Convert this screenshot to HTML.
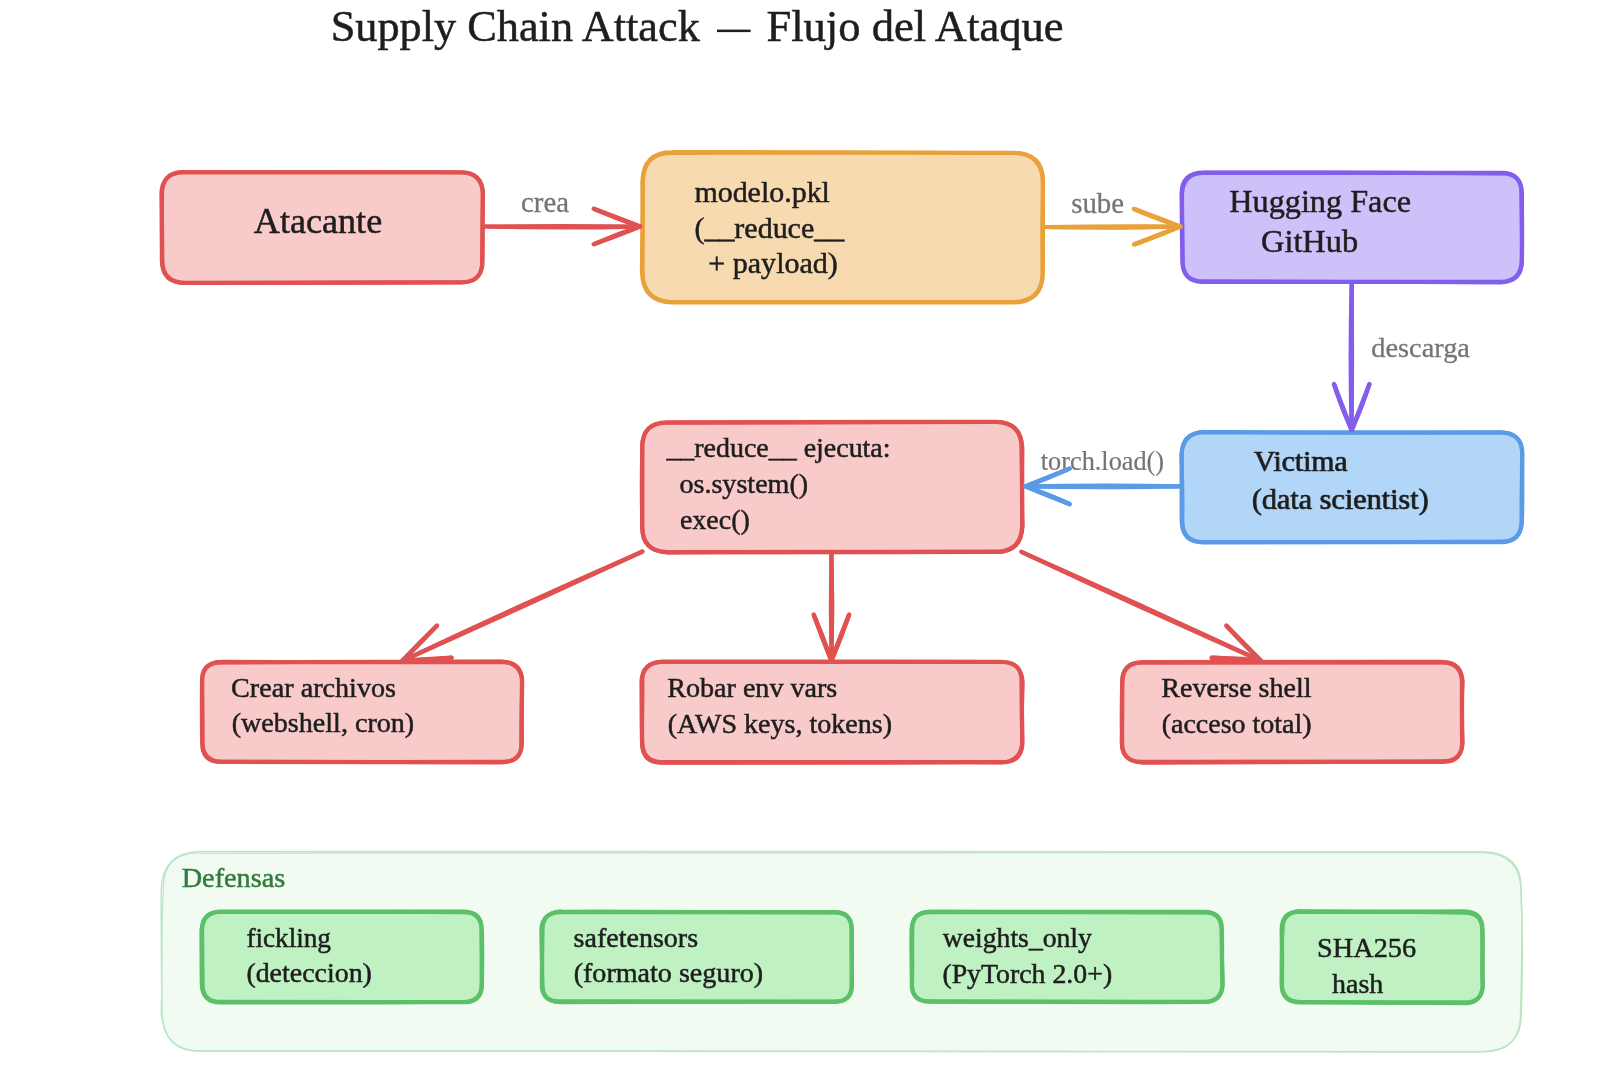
<!DOCTYPE html>
<html><head><meta charset="utf-8"><style>
html,body{margin:0;padding:0;background:#ffffff;width:1606px;height:1078px;overflow:hidden}
svg{display:block;will-change:transform}
text{font-family:"Liberation Serif",serif;white-space:pre}
</style></head><body>
<svg width="1606" height="1078" viewBox="0 0 1606 1078">
<path d="M202.95,853.06 C625.16,852.97 1046.49,853.09 1480.68,853.01 Q1521.13,853.29 1520.59,892.80 C1520.59,932.25 1521.19,970.42 1521.48,1011.46 Q1521.15,1051.12 1480.66,1050.52 C1059.29,1050.56 637.21,1050.74 202.53,1050.96 Q162.94,1051.34 163.02,1011.14 C163.00,972.22 162.96,932.90 163.50,893.50 Q163.34,853.21 202.95,853.06" fill="#f1fbf2"/>
<path d="M201.63,851.46 C623.98,851.14 1047.33,851.80 1482.69,851.77 Q1522.92,852.69 1521.00,891.42 C1522.82,931.54 1522.96,970.99 1521.15,1012.26 Q1522.56,1051.54 1481.17,1051.67 C1060.53,1052.52 636.44,1051.49 201.20,1051.12 Q162.59,1051.36 162.12,1011.89 C161.38,972.86 161.26,933.09 161.23,891.84 Q161.43,851.54 201.63,851.46" fill="none" stroke="#bde6c6" stroke-width="1.6" stroke-linecap="round"/>
<path d="M203.70,853.09 C623.69,853.39 1045.76,851.62 1483.28,852.51 Q1520.56,853.76 1520.97,891.13 C1522.98,930.98 1521.27,969.66 1520.52,1012.30 Q1521.07,1052.36 1481.54,1051.83 C1061.25,1051.94 637.47,1053.32 200.86,1050.75 Q163.47,1053.14 161.10,1010.88 C162.86,973.99 160.91,934.42 163.38,892.37 Q161.72,850.57 203.70,853.09" fill="none" stroke="#bde6c6" stroke-width="1.3" stroke-linecap="round"/>
<path d="M184.64,173.46 C275.36,173.20 365.89,173.32 459.50,172.79 Q481.18,173.22 481.07,194.83 C481.56,216.67 481.61,237.32 481.92,259.10 Q481.02,281.27 459.35,281.06 C368.56,281.37 278.43,281.13 184.96,281.89 Q163.48,281.66 163.19,259.48 C162.64,237.72 162.52,217.37 163.20,195.56 Q162.52,173.14 184.64,173.46" fill="#f8caca"/>
<path d="M184.08,172.23 C275.10,172.50 366.03,172.05 460.64,172.40 Q482.74,172.20 482.79,194.52 C482.35,216.16 482.90,238.23 482.42,260.69 Q482.86,282.57 460.52,282.38 C369.30,282.61 277.62,282.64 184.59,282.88 Q162.23,282.39 162.24,260.48 C161.94,238.86 161.58,216.89 161.53,194.20 Q161.98,171.73 184.08,172.23" fill="none" stroke="#e05252" stroke-width="4.4" stroke-linecap="round"/>
<path d="M184.46,172.00 C275.49,172.76 366.02,171.12 460.04,172.32 Q481.96,171.41 483.23,194.39 C482.40,216.68 482.19,238.16 481.96,260.28 Q483.05,283.25 461.08,282.29 C369.37,282.17 277.39,282.49 184.71,283.13 Q162.38,283.31 161.60,259.80 C161.91,238.12 161.49,216.49 162.23,194.09 Q161.67,172.61 184.46,172.00" fill="none" stroke="#e05252" stroke-width="3.74" stroke-linecap="round"/>
<path d="M673.88,153.45 C784.58,153.03 896.98,153.04 1011.81,153.57 Q1041.31,153.79 1041.02,183.04 C1041.45,211.87 1041.83,241.02 1041.14,270.65 Q1041.63,300.95 1011.73,301.16 C900.30,301.46 788.57,300.70 673.38,300.68 Q643.01,300.97 643.71,270.78 C643.27,242.00 643.70,213.24 643.61,183.66 Q643.39,153.79 673.88,153.45" fill="#f8dab0"/>
<path d="M672.81,152.09 C785.10,152.72 896.56,152.45 1012.73,152.91 Q1042.38,152.57 1042.88,182.70 C1042.94,211.96 1042.65,241.31 1042.72,272.42 Q1042.64,302.22 1012.31,302.40 C900.81,302.48 788.10,302.29 672.22,302.41 Q642.86,301.85 642.08,272.04 C642.55,242.77 642.49,212.43 642.81,181.96 Q642.80,152.17 672.81,152.09" fill="none" stroke="#e9a23b" stroke-width="4.4" stroke-linecap="round"/>
<path d="M672.10,153.02 C784.02,151.87 896.96,152.90 1013.21,152.84 Q1043.30,152.49 1043.31,181.65 C1042.00,212.05 1042.12,242.01 1042.75,272.14 Q1043.12,302.11 1012.26,301.79 C900.96,302.72 787.54,302.63 673.24,302.04 Q642.63,301.46 642.56,272.11 C642.69,241.65 643.34,212.93 642.32,182.94 Q642.61,152.48 672.10,153.02" fill="none" stroke="#e9a23b" stroke-width="3.74" stroke-linecap="round"/>
<path d="M1205.05,173.27 C1302.01,173.61 1399.54,174.12 1498.91,173.67 Q1520.63,173.63 1521.32,195.96 C1520.98,216.36 1520.69,237.64 1521.43,258.77 Q1521.28,280.52 1498.83,280.73 C1402.21,280.82 1304.77,281.12 1204.46,281.23 Q1182.62,281.01 1182.75,258.84 C1183.03,238.10 1182.88,217.09 1183.03,195.22 Q1182.70,173.83 1205.05,173.27" fill="#cec0f8"/>
<path d="M1204.00,172.73 C1301.98,172.81 1399.76,172.43 1500.38,173.01 Q1522.40,172.52 1521.81,194.98 C1521.72,216.70 1522.39,237.48 1521.74,260.37 Q1521.76,281.60 1500.47,281.92 C1402.66,281.63 1304.50,282.19 1203.38,281.70 Q1182.18,282.41 1182.47,259.76 C1182.01,238.76 1182.00,217.04 1181.69,194.13 Q1181.61,172.24 1204.00,172.73" fill="none" stroke="#835dec" stroke-width="4.4" stroke-linecap="round"/>
<path d="M1203.95,172.73 C1301.76,172.06 1398.84,172.17 1500.75,173.58 Q1522.77,171.97 1521.21,195.37 C1521.93,216.68 1521.69,237.78 1522.03,260.01 Q1522.18,281.12 1500.50,282.62 C1401.79,281.92 1305.03,281.83 1203.31,281.40 Q1182.02,281.13 1182.71,260.68 C1182.37,239.15 1182.23,216.69 1182.18,194.57 Q1182.87,173.25 1203.95,172.73" fill="none" stroke="#835dec" stroke-width="3.74" stroke-linecap="round"/>
<path d="M1204.76,433.91 C1302.26,433.78 1399.35,433.41 1499.40,433.88 Q1521.19,433.77 1521.27,455.41 C1521.22,476.19 1520.84,497.71 1520.51,519.36 Q1521.14,541.62 1498.73,541.94 C1402.15,541.34 1305.12,541.57 1205.03,541.39 Q1183.50,541.64 1183.20,519.76 C1183.48,497.90 1183.12,477.50 1182.76,455.40 Q1182.55,433.20 1204.76,433.91" fill="#b2d6f8"/>
<path d="M1203.88,432.10 C1301.43,432.91 1399.41,432.51 1500.47,432.57 Q1522.50,432.64 1522.31,454.08 C1522.10,476.54 1521.55,498.49 1521.66,520.47 Q1521.67,542.50 1500.11,542.06 C1402.77,542.42 1304.67,542.60 1203.87,542.29 Q1182.16,542.56 1181.78,520.72 C1181.80,498.23 1181.75,476.48 1181.66,454.75 Q1181.89,432.90 1203.88,432.10" fill="none" stroke="#5a9ae6" stroke-width="4.4" stroke-linecap="round"/>
<path d="M1204.45,431.69 C1302.56,433.30 1398.59,433.23 1499.87,432.46 Q1522.85,432.04 1522.04,455.29 C1522.40,476.22 1522.86,498.63 1522.19,519.81 Q1522.22,542.42 1499.47,541.69 C1402.37,541.82 1304.54,542.80 1203.92,542.07 Q1182.15,542.36 1182.50,520.56 C1182.90,499.53 1182.42,476.47 1181.30,455.21 Q1182.51,432.72 1204.45,431.69" fill="none" stroke="#5a9ae6" stroke-width="3.74" stroke-linecap="round"/>
<path d="M668.86,422.77 C776.77,423.06 884.25,423.13 995.25,422.69 Q1020.75,423.48 1021.42,449.38 C1020.54,473.64 1020.77,499.09 1021.12,524.60 Q1021.04,550.57 994.59,551.18 C887.47,551.13 779.71,550.98 668.71,550.84 Q643.24,551.34 642.57,524.62 C643.31,500.04 643.27,474.55 642.92,448.76 Q643.31,422.87 668.86,422.77" fill="#f8caca"/>
<path d="M668.15,422.49 C776.07,422.05 884.73,422.42 995.93,421.87 Q1021.60,422.38 1021.58,447.58 C1022.06,473.72 1022.19,499.28 1022.28,525.58 Q1021.71,552.16 995.58,551.80 C887.98,552.19 779.30,551.64 667.86,552.23 Q641.87,551.62 642.21,526.07 C642.42,500.70 642.41,474.46 642.30,447.80 Q641.82,421.90 668.15,422.49" fill="none" stroke="#e05252" stroke-width="4.4" stroke-linecap="round"/>
<path d="M668.78,422.71 C775.79,421.75 884.24,421.75 995.81,421.80 Q1021.45,422.11 1022.53,448.07 C1022.61,473.85 1021.42,499.95 1022.69,525.61 Q1021.14,552.03 996.08,552.12 C888.60,552.27 780.07,551.22 668.08,552.52 Q641.25,551.25 642.43,526.72 C641.25,500.50 641.36,474.96 642.27,447.54 Q641.50,422.48 668.78,422.71" fill="none" stroke="#e05252" stroke-width="3.74" stroke-linecap="round"/>
<path d="M223.02,663.26 C314.63,662.84 406.95,663.17 500.99,663.04 Q521.22,663.21 521.41,682.91 C521.33,702.31 521.35,721.59 521.33,741.39 Q521.46,761.14 501.02,761.21 C409.56,760.92 317.44,760.65 223.24,761.49 Q202.88,760.67 202.70,740.92 C202.79,722.33 202.56,702.53 202.61,683.15 Q203.28,662.68 223.02,663.26" fill="#f8caca"/>
<path d="M221.56,661.96 C314.48,662.41 406.34,661.61 501.68,661.72 Q521.74,662.22 522.09,681.72 C521.68,701.58 521.67,721.86 521.81,742.05 Q522.32,761.98 501.76,762.39 C410.01,761.84 317.25,762.46 221.98,761.72 Q201.55,762.45 202.30,741.88 C202.03,722.22 201.77,702.89 202.16,681.74 Q201.51,661.97 221.56,661.96" fill="none" stroke="#e05252" stroke-width="4.4" stroke-linecap="round"/>
<path d="M221.77,662.53 C314.78,662.19 406.18,661.38 501.68,661.57 Q522.66,662.03 522.25,682.89 C521.58,701.86 521.37,722.09 521.10,742.58 Q522.62,762.58 501.25,761.59 C409.99,761.27 317.16,761.94 222.82,762.16 Q202.64,761.65 202.52,741.85 C202.75,721.46 202.59,701.88 202.08,682.05 Q201.38,662.60 221.77,662.53" fill="none" stroke="#e05252" stroke-width="3.74" stroke-linecap="round"/>
<path d="M662.81,662.81 C774.12,662.81 886.05,663.22 1000.86,663.19 Q1020.61,662.89 1020.96,683.47 C1021.33,702.29 1020.51,721.16 1021.21,740.74 Q1021.06,760.96 1000.51,761.49 C889.76,760.71 778.04,760.79 662.88,761.04 Q642.80,760.84 642.89,741.17 C642.76,721.56 643.23,702.55 643.45,683.06 Q643.22,662.83 662.81,662.81" fill="#f8caca"/>
<path d="M662.33,661.59 C773.84,661.59 886.58,662.21 1001.68,661.90 Q1022.34,662.09 1021.59,681.73 C1021.66,701.42 1021.91,721.17 1022.42,741.93 Q1022.01,762.15 1002.27,762.32 C889.69,761.83 777.51,761.52 661.90,762.20 Q642.48,762.29 642.16,742.11 C641.52,722.03 641.84,702.55 641.61,681.88 Q642.01,662.29 662.33,661.59" fill="none" stroke="#e05252" stroke-width="4.4" stroke-linecap="round"/>
<path d="M662.59,662.20 C773.59,662.48 887.13,662.09 1001.73,662.00 Q1021.36,662.38 1022.88,682.03 C1022.39,702.40 1021.45,722.40 1022.23,741.46 Q1021.25,761.54 1002.14,762.35 C889.49,762.77 777.35,761.93 661.32,762.85 Q641.34,762.73 642.08,742.11 C642.11,721.78 642.74,703.29 642.57,682.18 Q641.32,662.58 662.59,662.20" fill="none" stroke="#e05252" stroke-width="3.74" stroke-linecap="round"/>
<path d="M1142.79,663.40 C1241.08,663.07 1340.01,662.69 1441.05,662.58 Q1460.53,662.68 1461.49,683.44 C1461.16,701.95 1461.17,721.52 1460.88,741.09 Q1461.30,760.52 1440.70,760.97 C1342.30,760.89 1244.39,760.67 1143.02,760.76 Q1123.07,760.83 1123.14,740.54 C1123.17,721.50 1123.46,702.82 1122.97,682.91 Q1123.12,663.19 1142.79,663.40" fill="#f8caca"/>
<path d="M1142.26,662.25 C1240.99,662.49 1340.34,662.36 1441.91,661.93 Q1462.07,662.41 1462.03,682.03 C1461.93,702.20 1461.82,721.15 1462.23,742.40 Q1462.23,762.10 1442.25,761.80 C1343.09,761.57 1243.62,761.95 1142.00,761.90 Q1121.55,762.19 1122.03,741.74 C1121.81,722.10 1121.74,701.97 1122.41,682.47 Q1122.17,662.37 1142.26,662.25" fill="none" stroke="#e05252" stroke-width="4.4" stroke-linecap="round"/>
<path d="M1141.86,662.55 C1240.50,662.44 1340.12,662.73 1441.28,662.53 Q1461.32,662.07 1462.81,681.10 C1461.54,701.44 1461.68,720.81 1462.71,742.57 Q1461.82,761.74 1442.15,761.18 C1342.16,762.72 1243.65,762.00 1142.78,762.86 Q1121.95,761.47 1121.63,742.76 C1122.71,721.65 1122.61,702.14 1121.95,681.41 Q1122.68,662.89 1141.86,662.55" fill="none" stroke="#e05252" stroke-width="3.74" stroke-linecap="round"/>
<path d="M220.70,913.13 C300.55,913.38 380.27,912.61 463.23,912.81 Q481.40,913.37 481.21,930.63 C481.20,948.60 480.95,964.90 480.72,982.81 Q481.21,1000.70 462.68,1000.74 C383.30,1001.29 303.15,1001.16 221.38,1001.09 Q202.73,1000.80 203.43,983.17 C202.78,965.98 202.59,949.16 202.94,931.03 Q203.03,912.55 220.70,913.13" fill="#c0f1c3"/>
<path d="M220.10,911.78 C300.27,912.30 380.63,911.79 464.26,911.75 Q481.78,912.05 481.69,930.40 C482.49,947.35 481.96,965.89 481.88,984.43 Q482.00,1001.68 464.06,1002.14 C383.34,1002.16 303.24,1002.02 220.01,1002.35 Q202.18,1002.02 202.45,983.67 C202.28,965.85 202.11,948.10 201.94,930.27 Q202.29,912.29 220.10,911.78" fill="none" stroke="#5cbf69" stroke-width="4.4" stroke-linecap="round"/>
<path d="M219.52,911.98 C300.02,912.14 381.04,911.16 464.17,912.39 Q482.13,912.67 481.42,929.37 C481.13,947.81 481.88,965.54 481.57,984.54 Q481.23,1002.73 464.12,1002.08 C384.00,1001.53 302.32,1001.66 219.18,1001.67 Q202.22,1002.05 201.58,984.16 C201.26,966.76 201.41,947.92 201.39,930.34 Q202.60,912.52 219.52,911.98" fill="none" stroke="#5cbf69" stroke-width="3.74" stroke-linecap="round"/>
<path d="M560.56,912.91 C650.62,912.72 740.99,912.54 832.99,913.26 Q851.49,912.64 850.96,931.24 C850.54,947.90 851.39,964.96 850.89,982.80 Q850.92,1000.58 832.53,1001.50 C743.50,1001.23 653.21,1000.75 561.05,1000.74 Q542.96,1001.43 542.86,982.84 C543.48,965.95 542.54,948.58 543.15,930.56 Q542.84,913.19 560.56,912.91" fill="#c0f1c3"/>
<path d="M560.36,912.09 C650.81,911.96 740.73,912.34 833.88,912.28 Q851.72,911.85 851.68,930.05 C851.66,947.52 851.71,965.61 851.81,983.95 Q852.49,1002.18 834.36,1001.70 C743.46,1001.57 653.35,1001.86 559.77,1001.52 Q541.68,1001.76 541.89,984.42 C542.22,965.95 541.86,948.01 542.44,929.86 Q542.27,912.22 560.36,912.09" fill="none" stroke="#5cbf69" stroke-width="4.4" stroke-linecap="round"/>
<path d="M560.73,911.14 C650.10,911.79 740.09,912.69 833.69,912.49 Q852.03,911.20 851.81,929.53 C851.17,947.19 852.17,964.80 851.66,983.86 Q852.08,1001.34 834.37,1001.57 C743.99,1002.30 652.52,1001.47 559.60,1002.38 Q541.83,1001.80 542.66,983.51 C541.63,965.90 541.49,947.53 541.14,930.23 Q542.12,912.56 560.73,911.14" fill="none" stroke="#5cbf69" stroke-width="3.74" stroke-linecap="round"/>
<path d="M931.48,912.80 C1020.93,913.42 1110.24,913.19 1203.17,913.46 Q1221.37,912.73 1221.13,930.59 C1220.93,948.05 1220.56,965.20 1220.83,983.00 Q1220.78,1000.66 1202.90,1000.98 C1112.91,1001.17 1023.22,1000.59 930.84,1000.92 Q912.65,1001.08 913.20,983.05 C913.20,965.36 912.89,948.54 912.56,930.90 Q912.55,913.00 931.48,912.80" fill="#c0f1c3"/>
<path d="M930.09,911.97 C1020.25,911.75 1110.36,911.85 1204.39,912.07 Q1221.76,912.17 1221.69,929.97 C1222.12,948.27 1221.86,965.72 1222.44,984.27 Q1222.13,1002.12 1203.91,1001.92 C1113.36,1002.33 1023.54,1001.88 930.41,1001.54 Q911.64,1002.01 911.81,983.86 C912.48,965.83 911.69,948.09 912.18,929.73 Q911.50,912.04 930.09,911.97" fill="none" stroke="#5cbf69" stroke-width="4.4" stroke-linecap="round"/>
<path d="M929.81,911.53 C1020.41,912.27 1110.93,912.22 1204.11,912.60 Q1222.84,911.70 1221.72,930.70 C1221.66,948.21 1222.35,965.98 1222.84,984.58 Q1221.39,1002.22 1203.98,1002.11 C1113.35,1001.61 1023.61,1002.06 929.53,1001.55 Q911.68,1001.42 912.02,983.33 C911.21,965.40 911.28,948.73 911.30,929.91 Q912.49,911.97 929.81,911.53" fill="none" stroke="#5cbf69" stroke-width="3.74" stroke-linecap="round"/>
<path d="M1300.76,913.37 C1355.03,912.55 1407.97,913.01 1463.70,912.89 Q1481.72,912.75 1481.72,930.93 C1481.33,948.62 1481.84,965.95 1481.57,983.32 Q1481.71,1001.62 1463.73,1001.80 C1409.47,1001.38 1356.45,1001.23 1300.78,1001.01 Q1283.09,1001.94 1283.47,983.03 C1283.19,966.06 1283.13,948.78 1283.43,931.59 Q1282.55,913.21 1300.76,913.37" fill="#c0f1c3"/>
<path d="M1299.72,911.54 C1354.11,912.23 1409.03,911.62 1464.23,911.53 Q1482.54,911.98 1482.37,929.91 C1482.80,948.36 1482.28,965.83 1482.62,984.67 Q1482.98,1002.39 1464.59,1002.55 C1410.48,1002.15 1355.64,1002.11 1300.53,1002.25 Q1281.99,1002.12 1281.82,983.92 C1282.07,966.12 1282.13,948.34 1281.73,930.08 Q1281.87,911.76 1299.72,911.54" fill="none" stroke="#5cbf69" stroke-width="4.4" stroke-linecap="round"/>
<path d="M1299.29,911.22 C1355.03,911.66 1407.78,911.43 1464.37,912.89 Q1481.96,912.66 1482.47,929.95 C1483.05,947.83 1481.70,966.03 1482.78,984.62 Q1482.10,1003.29 1465.06,1003.39 C1410.08,1003.10 1356.37,1001.92 1299.25,1001.90 Q1281.31,1001.73 1281.75,984.86 C1281.66,966.51 1281.12,948.04 1282.83,929.22 Q1282.05,912.56 1299.29,911.22" fill="none" stroke="#5cbf69" stroke-width="3.74" stroke-linecap="round"/>
<rect x="717" y="29.6" width="33.6" height="2.5" fill="#1e1e1e"/>
<text x="330.66" y="41.10" font-size="44.30" fill="#1e1e1e" stroke="#1e1e1e" stroke-width="0.5">Supply Chain Attack</text>
<text x="766.38" y="41.10" font-size="44.59" fill="#1e1e1e" stroke="#1e1e1e" stroke-width="0.5">Flujo del Ataque</text>
<text x="521.01" y="212.30" font-size="28.84" fill="#757575" stroke="#757575" stroke-width="0.3">crea</text>
<text x="1071.23" y="212.70" font-size="28.84" fill="#757575" stroke="#757575" stroke-width="0.3">sube</text>
<text x="1371.28" y="356.70" font-size="28.36" fill="#757575" stroke="#757575" stroke-width="0.3">descarga</text>
<text x="1040.79" y="470.40" font-size="26.29" fill="#757575" stroke="#757575" stroke-width="0.2">torch.load()</text>
<text x="253.84" y="232.80" font-size="36.13" fill="#1e1e1e" stroke="#1e1e1e" stroke-width="0.5">Atacante</text>
<text x="694.39" y="201.80" font-size="29.94" fill="#1e1e1e" stroke="#1e1e1e" stroke-width="0.5">modelo.pkl</text>
<text x="694.43" y="237.90" font-size="29.98" fill="#1e1e1e" stroke="#1e1e1e" stroke-width="0.5">(__reduce__</text>
<text x="708.33" y="273.40" font-size="30.04" fill="#1e1e1e" stroke="#1e1e1e" stroke-width="0.5">+ payload)</text>
<text x="1229.24" y="211.80" font-size="32.26" fill="#1e1e1e" stroke="#1e1e1e" stroke-width="0.5">Hugging Face</text>
<text x="1261.00" y="251.60" font-size="32.39" fill="#1e1e1e" stroke="#1e1e1e" stroke-width="0.5">GitHub</text>
<text x="1253.65" y="470.50" font-size="29.65" fill="#1e1e1e" stroke="#1e1e1e" stroke-width="0.5">Victima</text>
<text x="1254.55" y="470.50" font-size="29.65" fill="#1e1e1e" opacity="0.55">Victima</text>
<text x="1251.67" y="508.50" font-size="30.19" fill="#1e1e1e" stroke="#1e1e1e" stroke-width="0.5">(data scientist)</text>
<text x="1252.57" y="508.50" font-size="30.19" fill="#1e1e1e" opacity="0.55">(data scientist)</text>
<text x="666.38" y="456.90" font-size="27.94" fill="#1e1e1e" stroke="#1e1e1e" stroke-width="0.5">__reduce__ ejecuta:</text>
<text x="679.46" y="492.70" font-size="28.08" fill="#1e1e1e" stroke="#1e1e1e" stroke-width="0.5">os.system()</text>
<text x="679.96" y="528.50" font-size="27.97" fill="#1e1e1e" stroke="#1e1e1e" stroke-width="0.5">exec()</text>
<text x="231.10" y="696.80" font-size="28.16" fill="#1e1e1e" stroke="#1e1e1e" stroke-width="0.5">Crear archivos</text>
<text x="231.66" y="732.40" font-size="28.10" fill="#1e1e1e" stroke="#1e1e1e" stroke-width="0.5">(webshell, cron)</text>
<text x="667.22" y="696.90" font-size="28.10" fill="#1e1e1e" stroke="#1e1e1e" stroke-width="0.5">Robar env vars</text>
<text x="667.66" y="732.70" font-size="28.06" fill="#1e1e1e" stroke="#1e1e1e" stroke-width="0.5">(AWS keys, tokens)</text>
<text x="1161.26" y="696.80" font-size="28.06" fill="#1e1e1e" stroke="#1e1e1e" stroke-width="0.5">Reverse shell</text>
<text x="1161.63" y="732.90" font-size="28.01" fill="#1e1e1e" stroke="#1e1e1e" stroke-width="0.5">(acceso total)</text>
<text x="181.69" y="886.80" font-size="28.27" fill="#327c3b" stroke="#327c3b" stroke-width="0.5">Defensas</text>
<text x="246.43" y="946.50" font-size="27.18" fill="#1e1e1e" stroke="#1e1e1e" stroke-width="0.5">fickling</text>
<text x="246.38" y="981.70" font-size="27.91" fill="#1e1e1e" stroke="#1e1e1e" stroke-width="0.5">(deteccion)</text>
<text x="573.58" y="946.80" font-size="28.03" fill="#1e1e1e" stroke="#1e1e1e" stroke-width="0.5">safetensors</text>
<text x="573.66" y="982.40" font-size="28.09" fill="#1e1e1e" stroke="#1e1e1e" stroke-width="0.5">(formato seguro)</text>
<text x="942.85" y="946.80" font-size="27.66" fill="#1e1e1e" stroke="#1e1e1e" stroke-width="0.5">weights_only</text>
<text x="942.38" y="982.90" font-size="27.82" fill="#1e1e1e" stroke="#1e1e1e" stroke-width="0.5">(PyTorch 2.0+)</text>
<text x="1317.10" y="957.00" font-size="28.27" fill="#1e1e1e" stroke="#1e1e1e" stroke-width="0.5">SHA256</text>
<text x="1332.09" y="992.80" font-size="27.95" fill="#1e1e1e" stroke="#1e1e1e" stroke-width="0.5">hash</text>
<path d="M484.50,226.50 C531.15,227.03 593.35,226.82 640.00,226.50" fill="none" stroke="#e05252" stroke-width="4.20" stroke-linecap="round"/>
<path d="M484.50,228.60 Q562.25,230.42 640.00,228.60 L640.00,224.40 Q562.25,223.42 484.50,224.40Z" fill="#e05252"/>
<path d="M593.79,208.76 C607.50,214.48 626.05,221.42 640.00,226.50" fill="none" stroke="#e05252" stroke-width="4.40" stroke-linecap="round"/>
<path d="M593.00,210.81 Q615.77,220.56 639.21,228.55 L640.79,224.45 Q617.78,215.33 594.58,206.71Z" fill="#e05252"/>
<path d="M593.79,244.24 C607.59,238.75 626.10,231.72 640.00,226.50" fill="none" stroke="#e05252" stroke-width="4.40" stroke-linecap="round"/>
<path d="M594.58,246.29 Q617.85,237.85 640.79,228.55 L639.21,224.45 Q615.84,232.62 593.00,242.19Z" fill="#e05252"/>
<path d="M1044.50,227.00 C1085.24,227.40 1139.56,226.98 1180.30,226.50" fill="none" stroke="#e9a23b" stroke-width="4.20" stroke-linecap="round"/>
<path d="M1044.51,229.10 Q1112.41,230.69 1180.31,228.60 L1180.29,224.40 Q1112.39,223.69 1044.49,224.90Z" fill="#e9a23b"/>
<path d="M1134.02,208.93 C1147.70,214.75 1166.29,221.56 1180.30,226.50" fill="none" stroke="#e9a23b" stroke-width="4.40" stroke-linecap="round"/>
<path d="M1133.24,210.99 Q1156.00,220.77 1179.52,228.56 L1181.08,224.44 Q1157.99,215.54 1134.80,206.87Z" fill="#e9a23b"/>
<path d="M1134.15,244.41 C1148.17,239.49 1166.56,232.14 1180.30,226.50" fill="none" stroke="#e9a23b" stroke-width="4.40" stroke-linecap="round"/>
<path d="M1134.95,246.46 Q1158.38,238.42 1181.10,228.55 L1179.50,224.45 Q1156.35,233.20 1133.36,242.36Z" fill="#e9a23b"/>
<path d="M1351.70,284.00 C1350.83,327.86 1351.18,386.34 1351.70,430.20" fill="none" stroke="#835dec" stroke-width="4.20" stroke-linecap="round"/>
<path d="M1349.60,284.00 Q1347.50,357.10 1349.60,430.20 L1353.80,430.20 Q1354.50,357.10 1353.80,284.00Z" fill="#835dec"/>
<path d="M1369.44,383.99 C1364.79,398.11 1357.42,416.49 1351.70,430.20" fill="none" stroke="#835dec" stroke-width="4.40" stroke-linecap="round"/>
<path d="M1367.39,383.20 Q1358.49,406.30 1349.65,429.41 L1353.75,430.99 Q1363.72,408.30 1371.49,384.78Z" fill="#835dec"/>
<path d="M1333.96,383.99 C1338.53,398.14 1345.92,416.51 1351.70,430.20" fill="none" stroke="#835dec" stroke-width="4.40" stroke-linecap="round"/>
<path d="M1331.91,384.78 Q1339.61,408.33 1349.65,430.99 L1353.75,429.41 Q1344.84,406.32 1336.01,383.20Z" fill="#835dec"/>
<path d="M1181.00,486.30 C1134.38,486.51 1072.22,486.48 1025.60,486.40" fill="none" stroke="#5a9ae6" stroke-width="4.20" stroke-linecap="round"/>
<path d="M1181.00,484.20 Q1103.30,482.99 1025.60,484.30 L1025.60,488.50 Q1103.30,489.99 1181.00,488.40Z" fill="#5a9ae6"/>
<path d="M1069.87,504.16 C1056.73,498.49 1038.96,491.52 1025.60,486.40" fill="none" stroke="#5a9ae6" stroke-width="4.40" stroke-linecap="round"/>
<path d="M1070.69,502.12 Q1048.89,492.41 1026.42,484.36 L1024.78,488.44 Q1046.80,497.61 1069.05,506.20Z" fill="#5a9ae6"/>
<path d="M1069.85,468.58 C1056.74,474.34 1038.97,481.30 1025.60,486.40" fill="none" stroke="#5a9ae6" stroke-width="4.40" stroke-linecap="round"/>
<path d="M1069.02,466.54 Q1046.81,475.23 1024.78,484.36 L1026.42,488.44 Q1048.90,480.42 1070.67,470.62Z" fill="#5a9ae6"/>
<path d="M642.50,551.50 C570.16,583.62 474.25,627.61 402.40,660.80" fill="none" stroke="#e05252" stroke-width="4.20" stroke-linecap="round"/>
<path d="M641.63,549.59 Q520.76,602.43 401.53,658.89 L403.27,662.71 Q523.66,608.80 643.37,553.41Z" fill="#e05252"/>
<path d="M451.81,657.80 C437.04,659.56 417.25,660.41 402.40,660.80" fill="none" stroke="#e05252" stroke-width="4.40" stroke-linecap="round"/>
<path d="M451.68,655.60 Q426.98,657.19 402.27,658.60 L402.53,663.00 Q427.32,662.78 451.94,659.99Z" fill="#e05252"/>
<path d="M437.11,625.51 C426.60,636.00 412.75,650.15 402.40,660.80" fill="none" stroke="#e05252" stroke-width="4.40" stroke-linecap="round"/>
<path d="M435.54,623.97 Q417.68,641.11 400.83,659.26 L403.97,662.34 Q421.67,645.04 438.68,627.05Z" fill="#e05252"/>
<path d="M831.40,551.80 C831.89,584.50 831.69,628.10 831.40,660.80" fill="none" stroke="#e05252" stroke-width="4.20" stroke-linecap="round"/>
<path d="M829.30,551.80 Q828.29,606.30 829.30,660.80 L833.50,660.80 Q835.29,606.30 833.50,551.80Z" fill="#e05252"/>
<path d="M849.14,614.59 C844.00,628.52 836.83,646.98 831.40,660.80" fill="none" stroke="#e05252" stroke-width="4.40" stroke-linecap="round"/>
<path d="M847.09,613.80 Q837.81,636.75 829.35,660.01 L833.45,661.59 Q843.03,638.75 851.19,615.38Z" fill="#e05252"/>
<path d="M813.66,614.59 C819.20,628.37 826.21,646.89 831.40,660.80" fill="none" stroke="#e05252" stroke-width="4.40" stroke-linecap="round"/>
<path d="M811.61,615.38 Q820.09,638.63 829.35,661.59 L833.45,660.01 Q825.32,636.62 815.71,613.80Z" fill="#e05252"/>
<path d="M1021.30,551.80 C1093.09,584.76 1189.02,628.25 1261.00,660.80" fill="none" stroke="#e05252" stroke-width="4.20" stroke-linecap="round"/>
<path d="M1020.43,553.71 Q1139.61,609.69 1260.13,662.71 L1261.87,658.89 Q1142.51,603.32 1022.17,549.89Z" fill="#e05252"/>
<path d="M1226.28,625.52 C1236.29,636.50 1250.34,650.45 1261.00,660.80" fill="none" stroke="#e05252" stroke-width="4.40" stroke-linecap="round"/>
<path d="M1224.71,627.07 Q1241.32,645.44 1259.43,662.34 L1262.57,659.26 Q1245.31,641.51 1227.84,623.98Z" fill="#e05252"/>
<path d="M1211.59,657.82 C1226.43,658.47 1246.19,659.76 1261.00,660.80" fill="none" stroke="#e05252" stroke-width="4.40" stroke-linecap="round"/>
<path d="M1211.46,660.01 Q1236.14,661.91 1260.87,663.00 L1261.13,658.60 Q1236.48,656.32 1211.72,655.62Z" fill="#e05252"/>
</svg>
</body></html>
